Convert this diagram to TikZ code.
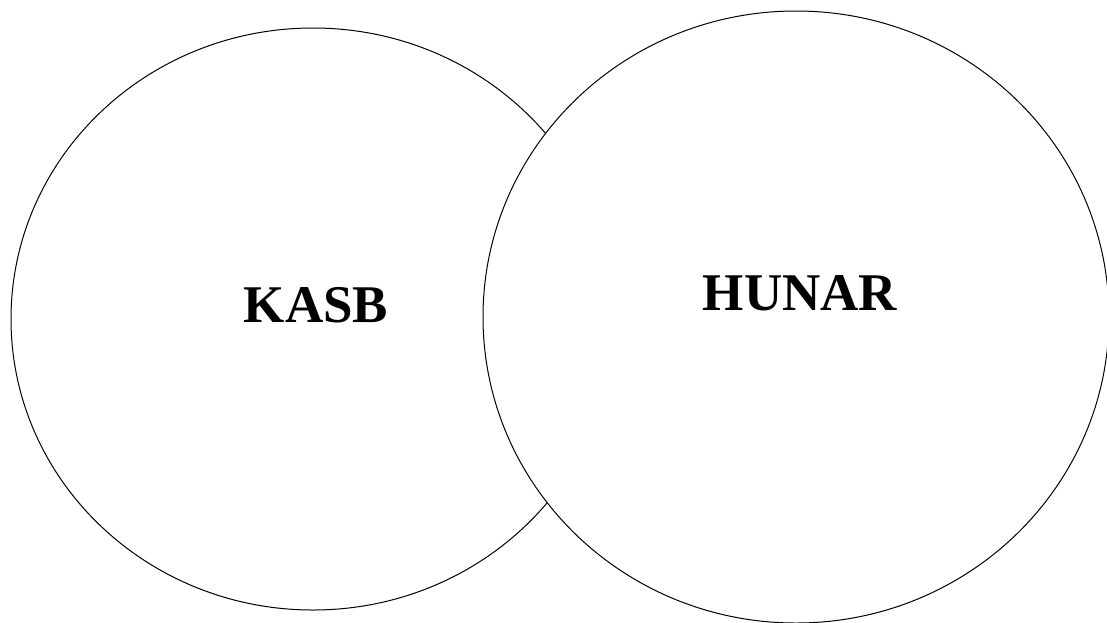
\documentclass[tikz,border=0pt]{standalone}
\usepackage{fontspec}
\setmainfont{Liberation Serif}
\usetikzlibrary{shapes.geometric,positioning}
\begin{document}
\begin{tikzpicture}[x=1pt,y=-1pt, line join=round, line cap=round,
    oval/.style={ellipse, draw, line width=1pt, fill=white, inner sep=0pt, outer sep=0pt},
    word/.style={inner sep=0pt, font=\fontsize{53}{60}\selectfont\bfseries}]
            \useasboundingbox (0,0) rectangle (1107,622);
            %\draw[color=gray!50,dashed] (0,0) grid[step=50] (1107,622);
            \node[oval, minimum width=604pt, minimum height=582pt] (kasb) at (313,319) {};
            \node[oval, minimum width=626pt, minimum height=612pt] (hunar) at (796,317) {};
            \node[word] (kasbtext) at (316,305) {KASB};
            \node[word] (hunartext) at (800,293) {HUNAR};
        \end{tikzpicture}
\end{document}
